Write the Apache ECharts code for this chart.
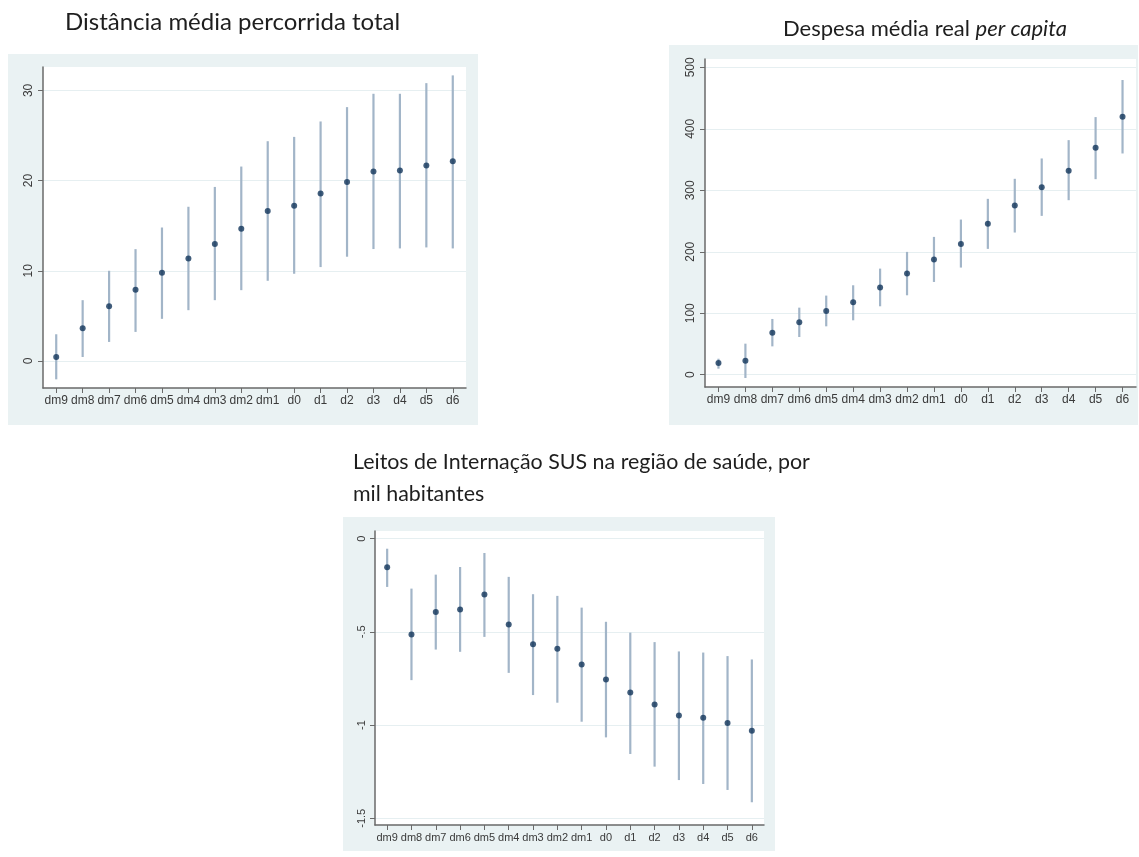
<!DOCTYPE html>
<html>
<head>
<meta charset="utf-8">
<script src="https://cdn.jsdelivr.net/npm/echarts@6/dist/echarts.min.js"></script>
<style>
  html, body { margin: 0; padding: 0; background: #ffffff; }
  #chart { width: 1139px; height: 857px; }
</style>
</head>
<body>
<div id="chart"></div>
<script>
// Event-time categories (years relative to the event)
const categories = ['dm9', 'dm8', 'dm7', 'dm6', 'dm5', 'dm4', 'dm3', 'dm2', 'dm1', 'd0', 'd1', 'd2', 'd3', 'd4', 'd5', 'd6'];

// Distância média percorrida total: point estimate and 95% interval
const distEst = [0.44, 3.63, 6.07, 7.89, 9.78, 11.37, 12.96, 14.67, 16.63, 17.22, 18.56, 19.85, 21.0, 21.11, 21.67, 22.15];
const distLo  = [-2.04, 0.44, 2.11, 3.22, 4.67, 5.63, 6.74, 7.85, 8.89, 9.67, 10.41, 11.56, 12.41, 12.48, 12.59, 12.48];
const distHi  = [2.96, 6.74, 10.0, 12.4, 14.8, 17.1, 19.3, 21.56, 24.37, 24.85, 26.56, 28.15, 29.63, 29.63, 30.81, 31.67];
const distTicks = [0, 10, 20, 30];

// Despesa média real per capita
const despEst = [19.0, 22.8, 68.4, 85.2, 103.7, 117.8, 141.7, 164.5, 187.3, 212.8, 245.4, 275.2, 305.1, 331.7, 369.2, 419.7];
const despLo  = [9.8, -5.4, 46.1, 61.3, 78.7, 88.5, 111.3, 129.2, 150.9, 174.3, 204.7, 231.3, 258.4, 283.9, 318.1, 359.9];
const despHi  = [26.0, 50.5, 90.7, 109.1, 128.7, 145.5, 172.6, 199.8, 224.2, 252.4, 286.1, 318.7, 351.8, 381.6, 419.1, 479.4];
const despTicks = [0, 100, 200, 300, 400, 500];

// Leitos de internação SUS por mil habitantes
const leitosEst = [-0.154, -0.514, -0.393, -0.380, -0.300, -0.461, -0.566, -0.591, -0.675, -0.755, -0.825, -0.889, -0.948, -0.961, -0.989, -1.030];
const leitosLo  = [-0.259, -0.759, -0.595, -0.607, -0.527, -0.720, -0.839, -0.880, -0.982, -1.066, -1.155, -1.223, -1.295, -1.316, -1.348, -1.414];
const leitosHi  = [-0.054, -0.268, -0.193, -0.152, -0.077, -0.205, -0.298, -0.307, -0.370, -0.446, -0.504, -0.555, -0.605, -0.611, -0.630, -0.648];
const leitosTicks = [0, -0.5, -1, -1.5];

const PANEL_BG = '#eaf2f3';
const GRID_LINE = '#e6eff1';
const AXIS_COLOR = '#6a6a6a';
const BAR_COLOR = '#a2b5c8';
const DOT_COLOR = '#12345a';
const LABEL_FONT = '"Liberation Sans", Arial, sans-serif';
const TITLE_FONT = 'Lato, "Open Sans", sans-serif';

// Stata-style number labels: "-.5" instead of "-0.5"
function stataNum(v) {
  if (v === 0) return '0';
  const s = String(Math.abs(v)).replace(/^0\./, '.');
  return (v < 0 ? '-' : '') + s;
}

function xAxisFor(gridIndex, fontSize) {
  return {
    type: 'category',
    gridIndex: gridIndex,
    data: categories,
    boundaryGap: true,
    axisLine: { show: true, onZero: false, lineStyle: { color: AXIS_COLOR, width: 1.5 } },
    axisTick: { show: true, alignWithLabel: true, length: 5, lineStyle: { color: AXIS_COLOR, width: 1 } },
    axisLabel: { color: '#3a3a3a', fontSize: fontSize, fontFamily: LABEL_FONT, margin: 7, interval: 0 },
    splitLine: { show: false }
  };
}

function yAxisFor(gridIndex, min, max, ticks, fontSize) {
  return {
    type: 'value',
    gridIndex: gridIndex,
    min: min,
    max: max,
    axisLine: { show: true, onZero: false, lineStyle: { color: AXIS_COLOR, width: 1.5 } },
    axisTick: { show: true, length: 5, customValues: ticks, lineStyle: { color: AXIS_COLOR, width: 1 } },
    axisLabel: { customValues: ticks, rotate: 90, color: '#3a3a3a', fontSize: fontSize, fontFamily: LABEL_FONT, margin: 8, formatter: stataNum },
    splitLine: { show: true, lineStyle: { color: GRID_LINE, width: 1 } }
  };
}

function intervalSeries(idx, lo, hi) {
  return {
    type: 'custom',
    xAxisIndex: idx,
    yAxisIndex: idx,
    silent: true,
    z: 2,
    data: categories.map((c, i) => [i, lo[i], hi[i]]),
    encode: { x: 0, y: [1, 2] },
    renderItem: function (params, api) {
      const a = api.coord([api.value(0), api.value(1)]);
      const b = api.coord([api.value(0), api.value(2)]);
      return {
        type: 'line',
        shape: { x1: a[0], y1: a[1], x2: b[0], y2: b[1] },
        style: { stroke: BAR_COLOR, lineWidth: 2.2 }
      };
    }
  };
}

function pointSeries(idx, est) {
  return {
    type: 'scatter',
    xAxisIndex: idx,
    yAxisIndex: idx,
    silent: true,
    z: 3,
    symbol: 'circle',
    symbolSize: 6,
    itemStyle: { color: DOT_COLOR },
    data: est
  };
}

const chart = echarts.init(document.getElementById('chart'), null, { renderer: 'canvas' });

chart.setOption({
  animation: false,
  backgroundColor: '#ffffff',
  graphic: [
    { type: 'rect', shape: { x: 8, y: 54, width: 470, height: 371 }, style: { fill: PANEL_BG }, z: -10, silent: true },
    { type: 'rect', shape: { x: 669, y: 45, width: 469, height: 380 }, style: { fill: PANEL_BG }, z: -10, silent: true },
    { type: 'rect', shape: { x: 343, y: 517, width: 432, height: 334 }, style: { fill: PANEL_BG }, z: -10, silent: true }
  ],
  title: [
    {
      text: 'Distância média percorrida total',
      left: 65, top: 10, padding: 0,
      textStyle: { fontFamily: TITLE_FONT, fontSize: 24, fontWeight: 'normal', color: '#1e1e1e' }
    },
    {
      text: 'Despesa média real {i|per capita}',
      left: 783, top: 18, padding: 0,
      textStyle: {
        fontFamily: TITLE_FONT, fontSize: 22, fontWeight: 'normal', color: '#1e1e1e',
        rich: { i: { fontFamily: TITLE_FONT, fontSize: 22, fontStyle: 'italic', color: '#1e1e1e' } }
      }
    },
    {
      text: 'Leitos de Internação SUS na região de saúde, por\nmil habitantes',
      left: 353, top: 446, padding: 0,
      textStyle: { fontFamily: TITLE_FONT, fontSize: 21.4, lineHeight: 32, fontWeight: 'normal', color: '#1e1e1e' }
    }
  ],
  grid: [
    { left: 43, top: 67, width: 423, height: 321, show: true, backgroundColor: '#ffffff', borderWidth: 0 },
    { left: 705, top: 59, width: 431, height: 328, show: true, backgroundColor: '#ffffff', borderWidth: 0 },
    { left: 375, top: 531, width: 389, height: 294, show: true, backgroundColor: '#ffffff', borderWidth: 0 }
  ],
  xAxis: [xAxisFor(0, 12), xAxisFor(1, 12), xAxisFor(2, 11)],
  yAxis: [
    yAxisFor(0, -3.0, 32.6, distTicks, 12),
    yAxisFor(1, -20, 513.6, despTicks, 12),
    yAxisFor(2, -1.536, 0.041, leitosTicks, 11)
  ],
  series: [
    intervalSeries(0, distLo, distHi), pointSeries(0, distEst),
    intervalSeries(1, despLo, despHi), pointSeries(1, despEst),
    intervalSeries(2, leitosLo, leitosHi), pointSeries(2, leitosEst)
  ]
});
</script>
</body>
</html>
